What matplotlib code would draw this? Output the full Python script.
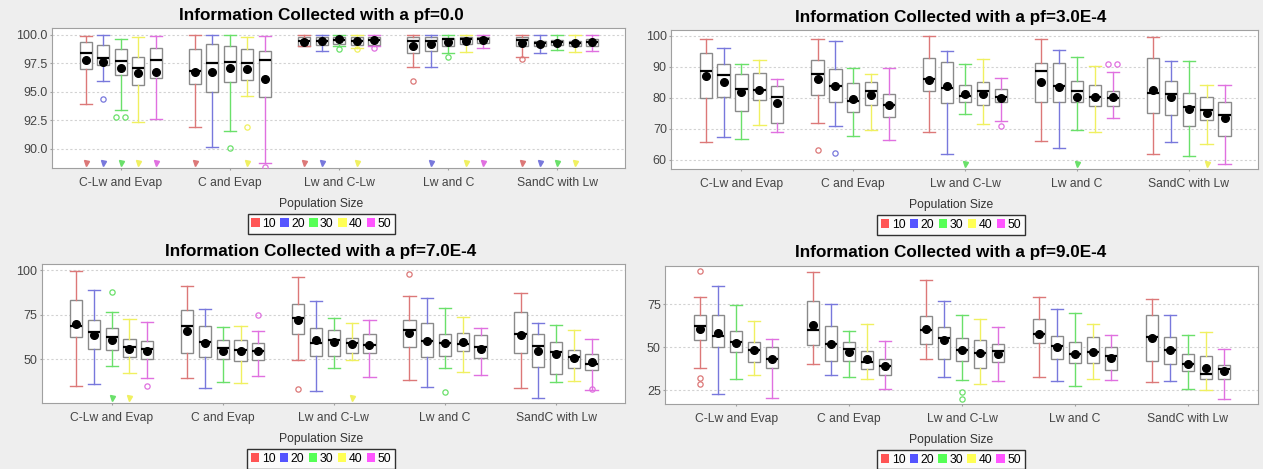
import matplotlib
matplotlib.use("Agg")
import matplotlib.pyplot as plt
from matplotlib.patches import Patch
import numpy as np

plt.rcParams['font.family'] = ['Liberation Sans', 'DejaVu Sans']

CATEGORIES = ["C-Lw and Evap", "C and Evap", "Lw and C-Lw", "Lw and C", "SandC with Lw"]
SERIES = ["10", "20", "30", "40", "50"]
SERIES_COLORS = ["#ff5555", "#5555ff", "#55ff55", "#ffff55", "#ff55ff"]
WHISKER_COLORS = ["#dc7878", "#7878dc", "#6ae06a", "#f0f060", "#e070e0"]

# rows = categories, columns = population sizes 10..50
# ---- pf=0.0
P0_HIGH = [[99.9, 100.0, 99.65, 99.85, 99.9],
           [100.0, 100.0, 100.0, 99.85, 99.9],
           [100.0, 100.0, 100.0, 100.0, 100.0],
           [100.0, 100.0, 100.0, 100.0, 100.0],
           [100.0, 100.0, 100.0, 100.0, 100.0]]
P0_Q3 = [[99.36, 99.12, 98.8, 98.04, 98.89],
         [98.8, 99.2, 99.06, 98.74, 98.57],
         [99.85, 99.85, 99.85, 99.8, 99.85],
         [99.8, 99.8, 99.7, 99.77, 99.77],
         [99.77, 99.5, 99.56, 99.5, 99.65]]
P0_MED = [[98.39, 98.0, 97.75, 97.13, 97.83],
          [96.8, 97.5, 97.66, 97.57, 97.8],
          [99.5, 99.5, 99.55, 99.5, 99.55],
          [99.5, 99.5, 99.6, 99.6, 99.6],
          [99.56, 99.3, 99.4, 99.3, 99.4]]
P0_Q1 = [[96.99, 97.34, 96.46, 95.64, 96.23],
         [95.67, 95.0, 95.85, 96.03, 94.59],
         [99.05, 99.15, 99.2, 99.15, 99.15],
         [98.39, 98.62, 99.04, 99.21, 99.27],
         [99.06, 98.98, 99.12, 99.06, 99.06]]
P0_LOW = [[93.92, 95.96, 93.4, 92.4, 92.63],
          [91.9, 90.18, 91.6, 94.68, 88.8],
          [98.98, 98.62, 99.04, 98.83, 98.98],
          [97.22, 97.22, 98.39, 98.54, 98.89],
          [98.1, 98.39, 98.68, 98.54, 98.6]]
P0_MEAN = [[97.8, 97.63, 97.08, 96.67, 96.7],
           [96.7, 96.7, 97.08, 96.99, 96.14],
           [99.39, 99.42, 99.62, 99.5, 99.51],
           [99.06, 99.21, 99.39, 99.5, 99.51],
           [99.27, 99.18, 99.3, 99.27, 99.36]]
P0_OUT = [[[], [94.4], [92.78, 92.78], [], []],
          [[], [], [90.09], [91.96], [88.45]],
          [[], [], [98.75], [98.72], [98.83]],
          [[95.99], [], [98.1], [], []],
          [[97.9], [], [], [], []]]
P0_FAR = [(0, 0), (0, 1), (0, 2), (0, 3), (0, 4), (1, 0), (1, 3),
          (2, 0), (2, 1), (2, 3), (3, 1), (3, 3), (3, 4),
          (4, 0), (4, 1), (4, 2), (4, 3)]

# ---- pf=3.0E-4
P1_HIGH = [[98.8, 96.1, 90.8, 92.1, 86.1],
           [98.8, 98.2, 89.7, 87.7, 89.7],
           [99.8, 95.2, 90.8, 92.5, 86.4],
           [98.8, 95.5, 93.0, 90.1, 88.3],
           [99.4, 91.8, 91.8, 84.0, 84.0]]
P1_Q3 = [[94.3, 90.8, 87.6, 88.0, 83.9],
         [92.1, 89.4, 84.6, 85.2, 81.1],
         [92.7, 91.5, 84.0, 85.0, 82.7],
         [91.2, 91.2, 85.3, 84.0, 82.2],
         [92.7, 85.5, 81.6, 80.4, 78.8]]
P1_MED = [[88.5, 87.2, 82.9, 82.6, 80.4],
          [87.7, 83.8, 78.9, 82.2, 77.6],
          [86.1, 83.2, 80.6, 82.2, 80.1],
          [88.7, 83.7, 82.2, 80.2, 79.9],
          [81.6, 81.1, 76.9, 76.2, 74.6]]
P1_Q1 = [[79.9, 80.3, 75.9, 79.4, 71.8],
         [80.9, 78.6, 75.5, 77.6, 73.7],
         [82.2, 78.2, 78.6, 77.6, 78.5],
         [78.6, 78.6, 78.6, 77.3, 77.3],
         [75.0, 74.5, 70.8, 72.8, 67.6]]
P1_LOW = [[65.8, 67.3, 66.6, 71.3, 69.0],
          [71.9, 70.9, 67.7, 69.8, 66.5],
          [68.9, 61.8, 74.9, 71.5, 72.4],
          [66.1, 64.0, 69.8, 69.0, 73.4],
          [62.0, 65.7, 61.2, 65.3, 58.8]]
P1_MEAN = [[86.9, 85.1, 81.8, 82.5, 78.3],
           [86.1, 83.8, 79.5, 80.8, 77.6],
           [85.7, 83.8, 81.3, 81.3, 80.0],
           [85.1, 83.4, 80.3, 80.3, 80.3],
           [82.4, 80.4, 76.4, 75.1, 73.4]]
P1_OUT = [[[], [], [], [], []],
          [[63.1], [62.4], [], [], []],
          [[], [], [], [], [70.8]],
          [[], [], [], [], [90.8, 90.8]],
          [[], [], [], [], []]]
P1_FAR = [(2, 2), (3, 2), (4, 3)]

# ---- pf=7.0E-4
P2_HIGH = [[99.6, 89.0, 76.3, 72.6, 71.1],
           [91.0, 78.4, 67.9, 68.5, 65.7],
           [95.9, 82.5, 73.1, 70.1, 72.0],
           [85.4, 84.1, 78.9, 73.7, 67.4],
           [86.9, 70.5, 69.2, 66.2, 61.6]]
P2_Q3 = [[83.0, 71.8, 67.7, 61.6, 60.3],
         [77.8, 68.5, 61.0, 61.0, 59.0],
         [81.2, 67.7, 66.2, 62.1, 64.4],
         [72.0, 70.1, 64.0, 64.9, 63.4],
         [76.3, 64.0, 59.9, 55.4, 52.8]]
P2_MED = [[68.7, 65.1, 62.7, 56.7, 55.6],
          [68.7, 59.5, 56.3, 55.4, 54.9],
          [73.3, 59.3, 60.8, 59.0, 57.8],
          [66.4, 60.3, 59.3, 58.6, 57.1],
          [64.0, 57.5, 54.3, 51.1, 47.4]]
P2_Q1 = [[62.5, 55.8, 55.0, 51.1, 50.0],
         [53.7, 51.3, 50.4, 49.3, 49.6],
         [64.2, 52.1, 52.1, 53.7, 53.5],
         [56.7, 51.5, 52.1, 54.7, 50.6],
         [53.7, 45.7, 41.8, 45.3, 44.2]]
P2_LOW = [[35.3, 36.4, 46.3, 42.2, 39.4],
          [39.4, 34.1, 37.5, 36.6, 40.5],
          [49.4, 32.3, 45.0, 49.4, 39.9],
          [38.6, 34.7, 45.3, 43.1, 41.2],
          [34.1, 28.5, 37.5, 37.9, 32.8]]
P2_MEAN = [[69.8, 63.8, 61.0, 56.0, 54.9],
           [65.9, 59.3, 54.7, 54.9, 54.7],
           [72.0, 61.0, 59.5, 58.8, 58.0],
           [64.9, 60.3, 59.1, 59.5, 55.8],
           [63.6, 54.9, 52.8, 50.7, 48.5]]
P2_OUT = [[[], [], [87.5], [], [35.3]],
          [[], [], [], [], [74.6]],
          [[33.6], [], [], [], []],
          [[97.9], [], [31.7], [], []],
          [[], [], [], [], [33.2]]]
P2_FAR = [(0, 2), (0, 3), (2, 3)]

# ---- pf=9.0E-4
P3_HIGH = [[79.1, 85.5, 74.6, 65.3, 54.8],
           [93.8, 75.0, 59.7, 63.4, 53.7],
           [89.4, 77.2, 68.7, 66.6, 62.0],
           [79.1, 72.5, 70.2, 63.6, 57.2],
           [77.9, 68.6, 57.2, 58.9, 48.8]]
P3_Q3 = [[68.8, 68.8, 59.7, 53.1, 50.4],
         [76.7, 62.6, 53.1, 48.1, 43.2],
         [68.5, 62.0, 55.5, 54.4, 51.7],
         [66.3, 56.6, 53.3, 56.0, 50.0],
         [68.6, 56.0, 46.3, 45.0, 39.7]]
P3_MED = [[62.2, 56.8, 52.9, 48.4, 43.0],
          [60.3, 51.7, 48.8, 41.3, 39.0],
          [59.9, 55.3, 48.4, 47.0, 47.9],
          [57.8, 51.0, 46.3, 47.5, 45.2],
          [56.0, 48.4, 40.3, 34.3, 37.4]]
P3_Q1 = [[54.3, 50.0, 47.3, 41.5, 38.0],
         [51.4, 42.2, 42.1, 37.6, 33.7],
         [52.2, 43.5, 42.2, 37.8, 41.2],
         [52.3, 43.4, 40.7, 40.7, 36.8],
         [42.2, 40.3, 36.4, 31.4, 31.4]]
P3_LOW = [[38.0, 22.7, 31.4, 33.9, 20.5],
          [40.1, 33.7, 32.9, 31.4, 25.8],
          [43.4, 33.0, 30.8, 28.6, 30.4],
          [32.9, 30.4, 27.5, 31.6, 31.0],
          [29.8, 30.4, 25.6, 25.2, 20.0]]
P3_MEAN = [[60.9, 58.5, 52.5, 48.4, 43.0],
           [63.0, 51.7, 47.5, 43.4, 39.0],
           [60.9, 54.4, 48.3, 47.0, 46.4],
           [57.8, 50.0, 46.3, 47.5, 44.0],
           [55.6, 48.4, 40.3, 37.8, 36.2]]
P3_OUT = [[[94.4, 32.4, 28.9], [], [], [], []],
          [[], [], [], [], []],
          [[], [], [23.8, 20.0], [], []],
          [[], [], [], [], []],
          [[], [], [], [], []]]
P3_FAR = []

TITLES = ["Information Collected with a pf=0.0", "Information Collected with a pf=3.0E-4",
          "Information Collected with a pf=7.0E-4", "Information Collected with a pf=9.0E-4"]
YLIMS = [(88.33, 100.6), (57.0, 101.8), (25.4, 103.2), (16.9, 97.5)]
YTICKS = [[90.0, 92.5, 95.0, 97.5, 100.0], [60, 70, 80, 90, 100], [50, 75, 100], [25, 50, 75]]
YFMT = ["{:.1f}", "{:.0f}", "{:.0f}", "{:.0f}"]

OFFSET = 0.16
BOX_W = 0.11


def draw_panel(ax, title, high, q3, med, q1, low, mean, outliers, far_out,
               ylim, yticks, yfmt, center):
    for s in range(len(SERIES)):
        pos = np.arange(len(CATEGORIES)) + (s - 2) * OFFSET
        stats = [dict(med=med[c][s], q1=q1[c][s], q3=q3[c][s],
                      whislo=low[c][s], whishi=high[c][s], mean=mean[c][s], fliers=[])
                 for c in range(len(CATEGORIES))]
        ax.bxp(stats, positions=pos, widths=BOX_W, capwidths=BOX_W,
               showmeans=True, showfliers=False, patch_artist=True, manage_ticks=False,
               boxprops=dict(facecolor="white", edgecolor="#8a8a8a", linewidth=1.0),
               whiskerprops=dict(color=WHISKER_COLORS[s], linewidth=1.0),
               capprops=dict(color=WHISKER_COLORS[s], linewidth=1.0),
               medianprops=dict(color="black", linewidth=1.6),
               meanprops=dict(marker="o", markerfacecolor="black",
                              markeredgecolor="black", markersize=5.5))

    # outliers: equal values are drawn side by side
    for c in range(len(CATEGORIES)):
        for s in range(len(SERIES)):
            vals = outliers[c][s]
            for k, v in enumerate(vals):
                same = [i for i, w in enumerate(vals) if w == v]
                dx = (same.index(k) - (len(same) - 1) / 2) * 0.08
                ax.plot(c + (s - 2) * OFFSET + dx, v, "o", markerfacecolor="none",
                        markeredgecolor=WHISKER_COLORS[s], markersize=3.8,
                        markeredgewidth=0.9, zorder=3)

    # values beyond the lower bound of the axis
    trans = ax.get_xaxis_transform()
    for c, s in far_out:
        ax.plot(c + (s - 2) * OFFSET, 0.035, "v", color=WHISKER_COLORS[s],
                markersize=3.6, transform=trans, clip_on=False, zorder=3)

    ax.set_xlim(-0.63, 4.62)
    ax.set_ylim(*ylim)
    ax.set_yticks(yticks)
    ax.set_yticklabels([yfmt.format(t) for t in yticks])
    ax.set_xticks(range(len(CATEGORIES)))
    ax.set_xticklabels(CATEGORIES)
    ax.yaxis.grid(True, linestyle=(0, (2, 2)), color="#d2d2d2", linewidth=0.8)
    ax.set_axisbelow(True)
    ax.set_facecolor("white")
    for sp in ax.spines.values():
        sp.set_color("#a0a0a0")
    ax.tick_params(axis="y", length=1.5, color="#a0a0a0", labelsize=9,
                   labelcolor="#444444", pad=1.5)
    ax.tick_params(axis="x", length=1.5, color="#a0a0a0", labelsize=8.7,
                   labelcolor="#444444", pad=5)

    ax.set_title(title, fontsize=12.3, fontweight="bold", x=center, pad=6)
    ax.set_xlabel("Population Size", fontsize=8.7, color="#333333")
    ax.xaxis.set_label_coords(center, -0.215)

    handles = [Patch(facecolor=col, edgecolor="none") for col in SERIES_COLORS]
    leg = ax.legend(handles, SERIES, loc="upper center", bbox_to_anchor=(center, -0.33),
                    ncol=5, frameon=True, fancybox=False, edgecolor="black",
                    fontsize=8.8, handlelength=0.7, handleheight=0.7,
                    handletextpad=0.2, columnspacing=0.35, borderpad=0.3,
                    borderaxespad=0)
    leg.get_frame().set_linewidth(1.0)


fig = plt.figure(figsize=(12.63, 4.69), dpi=100, facecolor="#eeeeee")

ax_positions = [[0.0412, 0.6418, 0.4537, 0.2985],
                [0.5313, 0.6390, 0.4648, 0.2970],
                [0.0330, 0.1400, 0.4618, 0.2964],
                [0.5265, 0.1380, 0.4695, 0.2955]]
centers = [0.47, 0.477, 0.479, 0.482]

panel_data = [
    (P0_HIGH, P0_Q3, P0_MED, P0_Q1, P0_LOW, P0_MEAN, P0_OUT, P0_FAR),
    (P1_HIGH, P1_Q3, P1_MED, P1_Q1, P1_LOW, P1_MEAN, P1_OUT, P1_FAR),
    (P2_HIGH, P2_Q3, P2_MED, P2_Q1, P2_LOW, P2_MEAN, P2_OUT, P2_FAR),
    (P3_HIGH, P3_Q3, P3_MED, P3_Q1, P3_LOW, P3_MEAN, P3_OUT, P3_FAR),
]

for i, data in enumerate(panel_data):
    ax = fig.add_axes(ax_positions[i])
    draw_panel(ax, TITLES[i], *data, YLIMS[i], YTICKS[i], YFMT[i], centers[i])

fig.savefig("out.png", dpi=100, facecolor=fig.get_facecolor())
